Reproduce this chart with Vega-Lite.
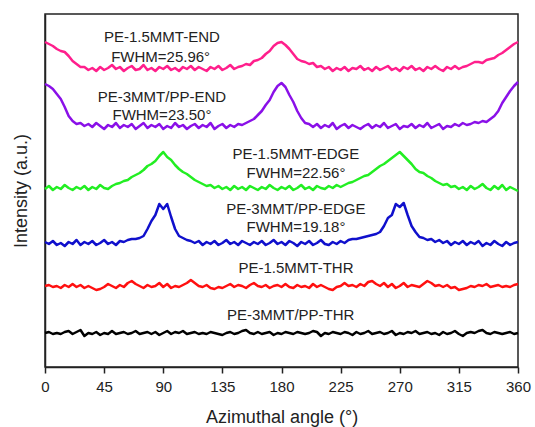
{
  "$schema": "https://vega.github.io/schema/vega-lite/v6.json",
  "width": 473,
  "height": 353,
  "autosize": {"type": "none"},
  "padding": {"left": 45, "top": 14, "right": 17, "bottom": 60},
  "config": {
    "view": {"stroke": "#222", "strokeWidth": 1.5},
    "font": "Liberation Sans",
    "axis": {"grid": false, "domainColor": "#222", "domainWidth": 1.5, "tickColor": "#222", "labelColor": "#222", "titleColor": "#222", "labelFont": "Liberation Sans", "titleFont": "Liberation Sans", "titleFontWeight": "normal"}
  },
  "datasets": {
    "curves": [
      {"a":0,"p":325,"u":283,"g":178,"b":125,"r":81,"k":34},
      {"a":3,"p":323,"u":281,"g":181,"b":123,"r":82,"k":35},
      {"a":6,"p":321,"u":278,"g":177,"b":126,"r":80,"k":33},
      {"a":9,"p":318,"u":273,"g":180,"b":122,"r":81,"k":34},
      {"a":12,"p":316,"u":268,"g":178,"b":124,"r":79,"k":33},
      {"a":15,"p":315,"u":260,"g":182,"b":121,"r":82,"k":35},
      {"a":18,"p":311,"u":251,"g":179,"b":125,"r":80,"k":36},
      {"a":21,"p":306,"u":246,"g":177,"b":123,"r":83,"k":33},
      {"a":24,"p":303,"u":243,"g":180,"b":127,"r":80,"k":35},
      {"a":27,"p":300,"u":244,"g":178,"b":122,"r":82,"k":37},
      {"a":30,"p":300,"u":241,"g":181,"b":125,"r":79,"k":31},
      {"a":33,"p":297,"u":243,"g":177,"b":123,"r":81,"k":34},
      {"a":36,"p":299,"u":240,"g":180,"b":126,"r":79,"k":33},
      {"a":39,"p":296,"u":244,"g":178,"b":122,"r":77,"k":35},
      {"a":42,"p":300,"u":241,"g":182,"b":124,"r":78,"k":32},
      {"a":45,"p":297,"u":238,"g":179,"b":127,"r":80,"k":34},
      {"a":48,"p":299,"u":242,"g":178,"b":123,"r":83,"k":33},
      {"a":51,"p":302,"u":240,"g":181,"b":125,"r":81,"k":36},
      {"a":54,"p":298,"u":244,"g":183,"b":122,"r":79,"k":33},
      {"a":57,"p":300,"u":239,"g":184,"b":126,"r":82,"k":34},
      {"a":60,"p":296,"u":242,"g":186,"b":125,"r":80,"k":35},
      {"a":63,"p":299,"u":240,"g":187,"b":127,"r":84,"k":33},
      {"a":66,"p":301,"u":243,"g":190,"b":128,"r":86,"k":34},
      {"a":69,"p":297,"u":238,"g":192,"b":128,"r":83,"k":36},
      {"a":72,"p":298,"u":241,"g":194,"b":129,"r":81,"k":33},
      {"a":75,"p":302,"u":244,"g":197,"b":131,"r":79,"k":34},
      {"a":78,"p":297,"u":239,"g":201,"b":138,"r":82,"k":35},
      {"a":81,"p":299,"u":242,"g":203,"b":146,"r":80,"k":33},
      {"a":84,"p":296,"u":240,"g":206,"b":152,"r":81,"k":35},
      {"a":87,"p":300,"u":243,"g":211,"b":163,"r":84,"k":32},
      {"a":90,"p":298,"u":238,"g":215,"b":158,"r":80,"k":34},
      {"a":93,"p":301,"u":241,"g":210,"b":163,"r":83,"k":36},
      {"a":96,"p":297,"u":239,"g":207,"b":150,"r":79,"k":33},
      {"a":99,"p":299,"u":244,"g":202,"b":138,"r":81,"k":35},
      {"a":102,"p":296,"u":240,"g":198,"b":131,"r":80,"k":34},
      {"a":105,"p":300,"u":242,"g":195,"b":129,"r":82,"k":36},
      {"a":108,"p":298,"u":238,"g":193,"b":127,"r":84,"k":33},
      {"a":111,"p":301,"u":241,"g":190,"b":126,"r":87,"k":34},
      {"a":114,"p":297,"u":243,"g":187,"b":124,"r":84,"k":35},
      {"a":117,"p":300,"u":239,"g":185,"b":126,"r":81,"k":33},
      {"a":120,"p":298,"u":242,"g":183,"b":122,"r":80,"k":34},
      {"a":123,"p":296,"u":240,"g":181,"b":125,"r":82,"k":33},
      {"a":126,"p":300,"u":244,"g":182,"b":123,"r":79,"k":35},
      {"a":129,"p":298,"u":238,"g":179,"b":126,"r":78,"k":34},
      {"a":132,"p":301,"u":241,"g":181,"b":122,"r":80,"k":33},
      {"a":135,"p":297,"u":243,"g":178,"b":124,"r":79,"k":32},
      {"a":138,"p":299,"u":239,"g":180,"b":127,"r":81,"k":34},
      {"a":141,"p":302,"u":242,"g":177,"b":123,"r":83,"k":35},
      {"a":144,"p":298,"u":240,"g":181,"b":125,"r":80,"k":33},
      {"a":147,"p":300,"u":243,"g":178,"b":122,"r":82,"k":34},
      {"a":150,"p":301,"u":242,"g":180,"b":126,"r":81,"k":36},
      {"a":153,"p":303,"u":244,"g":177,"b":124,"r":79,"k":37},
      {"a":156,"p":302,"u":246,"g":181,"b":122,"r":82,"k":34},
      {"a":159,"p":306,"u":248,"g":179,"b":125,"r":84,"k":33},
      {"a":162,"p":307,"u":252,"g":177,"b":123,"r":81,"k":35},
      {"a":165,"p":309,"u":256,"g":180,"b":126,"r":80,"k":33},
      {"a":168,"p":313,"u":262,"g":178,"b":122,"r":82,"k":34},
      {"a":171,"p":316,"u":267,"g":182,"b":124,"r":79,"k":35},
      {"a":174,"p":321,"u":275,"g":179,"b":127,"r":81,"k":32},
      {"a":177,"p":324,"u":281,"g":177,"b":123,"r":82,"k":34},
      {"a":180,"p":325,"u":284,"g":180,"b":125,"r":80,"k":33},
      {"a":183,"p":322,"u":280,"g":178,"b":122,"r":83,"k":35},
      {"a":186,"p":318,"u":272,"g":181,"b":126,"r":80,"k":34},
      {"a":189,"p":313,"u":265,"g":177,"b":124,"r":79,"k":33},
      {"a":192,"p":308,"u":256,"g":179,"b":121,"r":82,"k":35},
      {"a":195,"p":306,"u":249,"g":182,"b":125,"r":80,"k":34},
      {"a":198,"p":305,"u":244,"g":178,"b":123,"r":81,"k":33},
      {"a":201,"p":303,"u":243,"g":180,"b":126,"r":79,"k":34},
      {"a":204,"p":304,"u":240,"g":177,"b":122,"r":83,"k":36},
      {"a":207,"p":300,"u":243,"g":181,"b":124,"r":80,"k":35},
      {"a":210,"p":301,"u":239,"g":179,"b":127,"r":82,"k":31},
      {"a":213,"p":298,"u":242,"g":178,"b":123,"r":80,"k":34},
      {"a":216,"p":300,"u":240,"g":181,"b":122,"r":78,"k":33},
      {"a":219,"p":296,"u":244,"g":179,"b":125,"r":77,"k":35},
      {"a":222,"p":299,"u":238,"g":182,"b":123,"r":80,"k":34},
      {"a":225,"p":297,"u":241,"g":180,"b":126,"r":81,"k":33},
      {"a":228,"p":300,"u":243,"g":182,"b":124,"r":84,"k":35},
      {"a":231,"p":296,"u":239,"g":184,"b":127,"r":81,"k":34},
      {"a":234,"p":299,"u":242,"g":185,"b":128,"r":82,"k":32},
      {"a":237,"p":298,"u":240,"g":187,"b":128,"r":80,"k":35},
      {"a":240,"p":301,"u":238,"g":189,"b":129,"r":83,"k":33},
      {"a":243,"p":297,"u":241,"g":191,"b":130,"r":81,"k":34},
      {"a":246,"p":299,"u":243,"g":192,"b":131,"r":85,"k":36},
      {"a":249,"p":296,"u":239,"g":195,"b":132,"r":86,"k":33},
      {"a":252,"p":300,"u":242,"g":198,"b":133,"r":83,"k":34},
      {"a":255,"p":297,"u":240,"g":201,"b":135,"r":81,"k":35},
      {"a":258,"p":299,"u":244,"g":203,"b":141,"r":84,"k":33},
      {"a":261,"p":301,"u":239,"g":206,"b":149,"r":80,"k":34},
      {"a":264,"p":297,"u":241,"g":209,"b":152,"r":83,"k":36},
      {"a":267,"p":299,"u":243,"g":212,"b":163,"r":79,"k":32},
      {"a":270,"p":296,"u":238,"g":215,"b":160,"r":81,"k":34},
      {"a":273,"p":300,"u":241,"g":211,"b":164,"r":84,"k":33},
      {"a":276,"p":298,"u":240,"g":207,"b":152,"r":80,"k":35},
      {"a":279,"p":301,"u":243,"g":203,"b":141,"r":82,"k":34},
      {"a":282,"p":297,"u":239,"g":198,"b":135,"r":81,"k":36},
      {"a":285,"p":299,"u":242,"g":195,"b":130,"r":80,"k":33},
      {"a":288,"p":296,"u":240,"g":194,"b":129,"r":83,"k":34},
      {"a":291,"p":300,"u":244,"g":191,"b":127,"r":86,"k":35},
      {"a":294,"p":298,"u":239,"g":189,"b":128,"r":84,"k":33},
      {"a":297,"p":301,"u":241,"g":186,"b":125,"r":81,"k":34},
      {"a":300,"p":298,"u":243,"g":184,"b":127,"r":82,"k":32},
      {"a":303,"p":296,"u":238,"g":182,"b":124,"r":80,"k":35},
      {"a":306,"p":300,"u":241,"g":183,"b":126,"r":82,"k":33},
      {"a":309,"p":298,"u":240,"g":180,"b":122,"r":79,"k":34},
      {"a":312,"p":301,"u":243,"g":181,"b":125,"r":80,"k":36},
      {"a":315,"p":298,"u":241,"g":178,"b":123,"r":77,"k":33},
      {"a":318,"p":300,"u":244,"g":180,"b":126,"r":78,"k":31},
      {"a":321,"p":301,"u":242,"g":177,"b":122,"r":79,"k":34},
      {"a":324,"p":303,"u":243,"g":181,"b":125,"r":81,"k":35},
      {"a":327,"p":305,"u":245,"g":178,"b":123,"r":80,"k":34},
      {"a":330,"p":305,"u":244,"g":180,"b":126,"r":82,"k":36},
      {"a":333,"p":304,"u":246,"g":183,"b":121,"r":81,"k":37},
      {"a":336,"p":307,"u":245,"g":179,"b":124,"r":83,"k":34},
      {"a":339,"p":308,"u":248,"g":177,"b":122,"r":80,"k":33},
      {"a":342,"p":309,"u":251,"g":181,"b":126,"r":81,"k":35},
      {"a":345,"p":312,"u":256,"g":178,"b":123,"r":82,"k":34},
      {"a":348,"p":314,"u":264,"g":182,"b":121,"r":80,"k":33},
      {"a":351,"p":317,"u":270,"g":177,"b":125,"r":81,"k":34},
      {"a":354,"p":320,"u":276,"g":180,"b":122,"r":80,"k":35},
      {"a":357,"p":323,"u":281,"g":178,"b":124,"r":82,"k":33},
      {"a":360,"p":325,"u":285,"g":176,"b":125,"r":83,"k":34}
    ],
    "labels": [
      {"t":"PE-1.5MMT-END","a":89,"i":330},
      {"t":"FWHM=25.96°","a":88,"i":310},
      {"t":"PE-3MMT/PP-END","a":89,"i":270},
      {"t":"FWHM=23.50°","a":89,"i":252},
      {"t":"PE-1.5MMT-EDGE","a":191,"i":213},
      {"t":"FWHM=22.56°","a":191,"i":194},
      {"t":"PE-3MMT/PP-EDGE","a":191,"i":158},
      {"t":"FWHM=19.18°","a":191,"i":140},
      {"t":"PE-1.5MMT-THR","a":191,"i":99},
      {"t":"PE-3MMT/PP-THR","a":187,"i":52}
    ]
  },
  "layer": [
    {
      "data": {"name": "curves"},
      "transform": [{"fold": ["p","u","g","b","r","k"], "as": ["s","v"]}],
      "mark": {"type": "line", "strokeWidth": 2.5, "strokeJoin": "round"},
      "encoding": {
        "x": {"field": "a", "type": "quantitative", "scale": {"domain": [0,360], "nice": false},
              "axis": {"values": [0,22.5,45,67.5,90,112.5,135,157.5,180,202.5,225,247.5,270,292.5,315,337.5,360],
                       "labelExpr": "datum.value % 45 === 0 ? datum.label : ''",
                       "tickSize": {"condition": {"test": "datum.value % 45 !== 0", "value": 3}, "value": 6},
                       "tickWidth": 1.5, "labelFlush": false, "labelFontSize": 15, "labelPadding": 6,
                       "title": "Azimuthal angle (°)", "titleFontSize": 18, "titlePadding": 14}},
        "y": {"field": "v", "type": "quantitative", "scale": {"domain": [0,353], "nice": false},
              "axis": {"ticks": false, "labels": false, "title": "Intensity (a.u.)", "titleFontSize": 18, "titlePadding": 15}},
        "color": {"field": "s", "type": "nominal", "legend": null,
                  "scale": {"domain": ["p","u","g","b","r","k"], "range": ["#ff1f8c","#8a10e8","#22ee22","#1010cc","#ff1010","#000000"]}},
        "detail": {"field": "s"}
      }
    },
    {
      "data": {"name": "labels"},
      "mark": {"type": "text", "fontSize": 15, "align": "center", "baseline": "middle", "color": "#222", "font": "Liberation Sans"},
      "encoding": {
        "x": {"field": "a", "type": "quantitative"},
        "y": {"field": "i", "type": "quantitative"},
        "text": {"field": "t"}
      }
    }
  ]
}
